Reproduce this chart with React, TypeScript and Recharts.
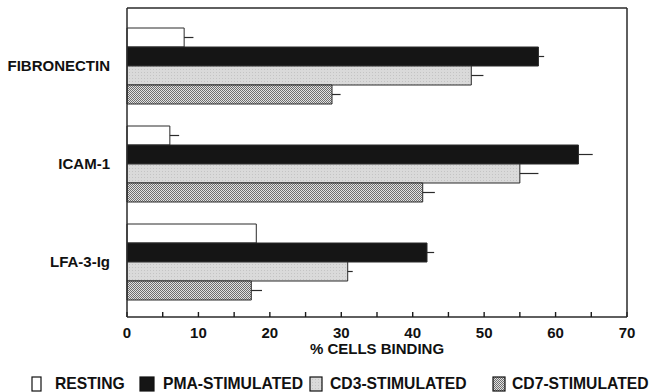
import React from "react";
import { BarChart, Bar, XAxis, YAxis, ErrorBar } from "recharts";

const categories = ["FIBRONECTIN", "ICAM-1", "LFA-3-Ig"];
const resting = [8.0, 6.0, 18.1];
const restingErr = [1.3, 1.3, 0];
const pma = [57.6, 63.2, 42.0];
const pmaErr = [0.8, 2.0, 1.0];
const cd3 = [48.2, 55.0, 30.9];
const cd3Err = [1.7, 2.6, 0.7];
const cd7 = [28.7, 41.4, 17.4];
const cd7Err = [1.2, 1.7, 1.5];
const xTicks = [0, 5, 10, 15, 20, 25, 30, 35, 40, 45, 50, 55, 60, 65, 70];

const data = categories.map((name, i) => ({
  name,
  resting: resting[i],
  restingErr: [0, restingErr[i]],
  pma: pma[i],
  pmaErr: [0, pmaErr[i]],
  cd3: cd3[i],
  cd3Err: [0, cd3Err[i]],
  cd7: cd7[i],
  cd7Err: [0, cd7Err[i]],
}));

const FONT = "'Liberation Sans', Arial, Helvetica, sans-serif";
const INK = "#2a2a2a";

// labels only on the tens; tick marks come from the axis (negative size = inward)
const XTick = (props: any) => {
  const { x, y, payload } = props;
  const v = Number(payload.value);
  if (v % 10 !== 0) return <g />;
  return (
    <text x={x} y={Number(y) + 7} textAnchor="middle" fontFamily={FONT} fontWeight="bold" fontSize={15} fill="#111">
      {v}
    </text>
  );
};

// legend slots (box left, text left)
const legendItems = [
  { label: "RESTING", fill: "#ffffff", w: 9, box: 32, text: 55 },
  { label: "PMA-STIMULATED", fill: "#151515", w: 14, box: 140, text: 163 },
  { label: "CD3-STIMULATED", fill: "url(#cd3pat)", w: 12, box: 310, text: 330 },
  { label: "CD7-STIMULATED", fill: "url(#cd7pat)", w: 12, box: 493, text: 512 },
];

export default function App() {
  return (
    <div style={{ position: "absolute", left: 0, top: 0, width: 655, height: 392, background: "#fff" }}>
      <svg width={0} height={0} style={{ position: "absolute" }}>
        <defs>
          <pattern id="cd3pat" width="3" height="3" patternUnits="userSpaceOnUse">
            <rect width="3" height="3" fill="#dadada" />
            <rect x="0" y="0" width="1" height="1" fill="#c4c4c4" />
          </pattern>
          <pattern id="cd7pat" width="2" height="2" patternUnits="userSpaceOnUse">
            <rect width="2" height="2" fill="#e2e2e2" />
            <rect x="0" y="0" width="1" height="1" fill="#6e6e6e" />
            <rect x="1" y="1" width="1" height="1" fill="#6e6e6e" />
          </pattern>
        </defs>
      </svg>
      <BarChart
        width={655}
        height={392}
        data={data}
        layout="vertical"
        margin={{ top: 7, right: 27, bottom: 30, left: 0 }}
        barGap={0}
      >
        <XAxis
          type="number"
          domain={[0, 70]}
          ticks={xTicks}
          interval={0}
          tickSize={-5}
          tickMargin={19}
          tick={<XTick />}
          tickLine={{ stroke: "#1a1a1a", strokeWidth: 1.4 }}
          axisLine={{ stroke: INK, strokeWidth: 1.5 }}
          height={45}
          label={{
            value: "% CELLS BINDING",
            position: "insideBottom",
            offset: 8,
            style: { fontFamily: FONT, fontWeight: "bold", fontSize: 15, fill: "#111" },
          }}
        />
        <XAxis
          xAxisId="top"
          orientation="top"
          type="number"
          domain={[0, 70]}
          tick={false}
          tickLine={false}
          height={1}
          axisLine={{ stroke: INK, strokeWidth: 1.5 }}
        />
        <YAxis
          type="category"
          dataKey="name"
          width={127}
          padding={{ top: 9, bottom: 6 }}
          tickLine={false}
          tickMargin={11}
          axisLine={{ stroke: INK, strokeWidth: 1.5 }}
          tick={{ fontFamily: FONT, fontWeight: "bold", fontSize: 15, fill: "#111" }}
        />
        <YAxis
          yAxisId="right"
          orientation="right"
          type="category"
          dataKey="name"
          width={1}
          tick={false}
          tickLine={false}
          axisLine={{ stroke: INK, strokeWidth: 1.5 }}
        />
        <Bar dataKey="resting" barSize={19} fill="#ffffff" stroke={INK} strokeWidth={1} isAnimationActive={false}>
          <ErrorBar dataKey="restingErr" direction="x" width={0} stroke={INK} strokeWidth={1.2} />
        </Bar>
        <Bar dataKey="pma" barSize={19} fill="#151515" stroke={INK} strokeWidth={1} isAnimationActive={false}>
          <ErrorBar dataKey="pmaErr" direction="x" width={0} stroke={INK} strokeWidth={1.2} />
        </Bar>
        <Bar dataKey="cd3" barSize={19} fill="url(#cd3pat)" stroke={INK} strokeWidth={1} isAnimationActive={false}>
          <ErrorBar dataKey="cd3Err" direction="x" width={0} stroke={INK} strokeWidth={1.2} />
        </Bar>
        <Bar dataKey="cd7" barSize={19} fill="url(#cd7pat)" stroke={INK} strokeWidth={1} isAnimationActive={false}>
          <ErrorBar dataKey="cd7Err" direction="x" width={0} stroke={INK} strokeWidth={1.2} />
        </Bar>
      </BarChart>
      {legendItems.map((it) => (
        <React.Fragment key={it.label}>
          <svg width={it.w + 2} height={16} style={{ position: "absolute", left: it.box - 1, top: 376 }}>
            <rect x={1} y={1} width={it.w} height={14} fill={it.fill} stroke="#111" strokeWidth={1.2} />
          </svg>
          <span
            style={{
              position: "absolute",
              left: it.text,
              top: 376,
              fontFamily: FONT,
              fontWeight: "bold",
              fontSize: 15.7,
              lineHeight: "16px",
              color: "#111",
              whiteSpace: "nowrap",
            }}
          >
            {it.label}
          </span>
        </React.Fragment>
      ))}
    </div>
  );
}
